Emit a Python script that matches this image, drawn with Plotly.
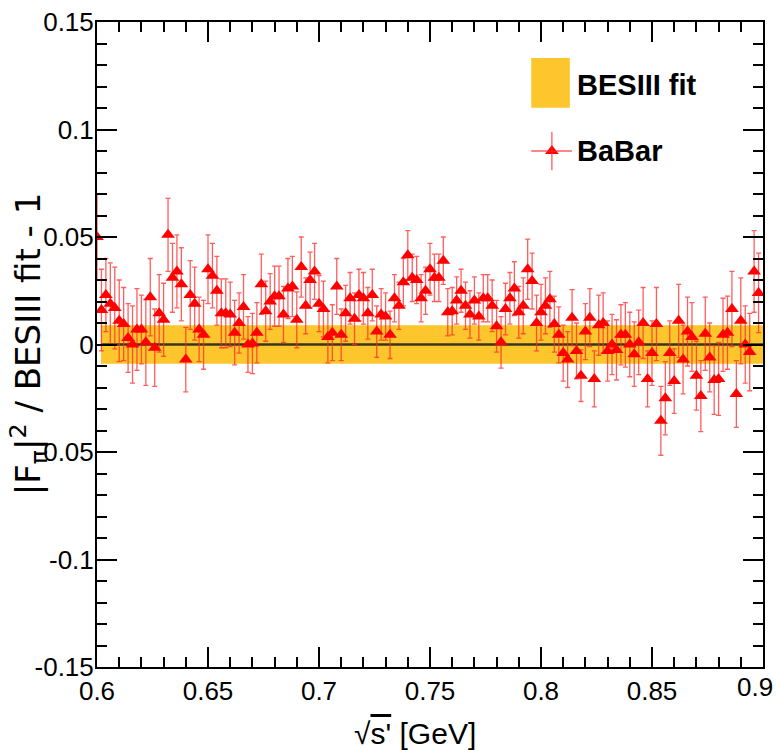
import plotly.graph_objects as go

# BaBar points: sqrt(s') bin centres [GeV] (2 MeV bins from 0.600 to 0.898)
sqrt_s = [round(0.600 + 0.002 * k, 3) for k in range(150)]

babar_ratio = [
    0.050, 0.016, 0.023, 0.019, 0.017, 0.011, 0.0095, 0.003, 0.000, 0.007,
    0.007, 0.001, 0.022, -0.0015, 0.0145, 0.0115, 0.051, 0.031, 0.034, 0.028,
    -0.007, 0.023, 0.019, 0.007, 0.0045, 0.035, 0.032, 0.025, 0.0145, 0.0145,
    0.014, 0.0055, 0.010, 0.0175, 0.000, 0.0005, 0.0055, 0.028, 0.0155, 0.020,
    0.0225, 0.0225, 0.014, 0.026, 0.027, 0.0115, 0.036, 0.018, 0.030, 0.034,
    0.019, 0.0165, 0.0035, 0.0055, 0.027, 0.0045, 0.0145, 0.0215, 0.012, 0.023,
    0.0215, 0.0145, 0.023, 0.006, 0.014, 0.013, 0.0045, 0.0215, 0.018, 0.029,
    0.0415, 0.031, 0.030, 0.0215, 0.025, 0.035, 0.031, 0.031, 0.039, 0.015,
    0.0155, 0.0205, 0.025, 0.018, 0.014, 0.0205, 0.013, 0.0215, 0.0215, 0.018,
    0.0085, 0.001, 0.0165, 0.0215, 0.026, 0.015, 0.018, 0.035, 0.0295, 0.010,
    0.015, 0.018, 0.021, 0.0095, 0.0045, -0.004, -0.007, 0.0125, -0.003, -0.0145,
    0.006, 0.0125, -0.016, 0.009, 0.010, -0.003, 0.000, -0.0025, 0.0045, 0.0045,
    0.000, -0.0045, 0.001, 0.010, -0.016, -0.004, 0.0095, -0.0355, -0.025, -0.004,
    -0.017, 0.011, -0.007, 0.006, 0.0035, -0.0145, -0.024, 0.005, -0.006, -0.0165,
    -0.016, 0.0045, 0.0055, 0.0165, -0.023, 0.011, 0.000, -0.0035, 0.034, 0.024,
]

babar_err = [
    0.020, 0.019, 0.017, 0.019, 0.019, 0.019, 0.017, 0.016, 0.018, 0.019,
    0.016, 0.020, 0.018, 0.018, 0.018, 0.017, 0.017, 0.016, 0.017, 0.017,
    0.015, 0.016, 0.017, 0.015, 0.016, 0.016, 0.015, 0.016, 0.016, 0.016,
    0.015, 0.015, 0.014, 0.015, 0.013, 0.014, 0.014, 0.014, 0.014, 0.013,
    0.014, 0.014, 0.013, 0.014, 0.014, 0.013, 0.014, 0.013, 0.013, 0.013,
    0.013, 0.013, 0.012, 0.013, 0.013, 0.012, 0.013, 0.012, 0.012, 0.012,
    0.012, 0.012, 0.012, 0.012, 0.012, 0.011, 0.011, 0.011, 0.011, 0.011,
    0.0115, 0.011, 0.011, 0.011, 0.011, 0.012, 0.011, 0.011, 0.011, 0.011,
    0.011, 0.011, 0.010, 0.011, 0.011, 0.011, 0.011, 0.011, 0.011, 0.012,
    0.012, 0.012, 0.012, 0.012, 0.0125, 0.012, 0.013, 0.014, 0.013, 0.013,
    0.013, 0.013, 0.013, 0.013, 0.013, 0.013, 0.013, 0.013, 0.013, 0.012,
    0.013, 0.0135, 0.013, 0.014, 0.014, 0.014, 0.014, 0.014, 0.014, 0.015,
    0.015, 0.015, 0.015, 0.0165, 0.013, 0.015, 0.017, 0.016, 0.017, 0.015,
    0.015, 0.017, 0.016, 0.016, 0.016, 0.016, 0.0165, 0.017, 0.016, 0.016,
    0.017, 0.017, 0.017, 0.0175, 0.0155, 0.020, 0.018, 0.018, 0.019, 0.0185,
]

# BESIII fit: central value and uncertainty band (relative)
fit_x = [0.6018, 0.9]
fit_centre = [0.0, 0.0]
fit_lo = [-0.009, -0.009]
fit_hi = [0.009, 0.009]

# axis tick labels (plain hyphen for negatives); the last x label is placed
# separately so that it stays inside the page
y_ticks = [-0.15, -0.1, -0.05, 0, 0.05, 0.1, 0.15]
y_labels = ["-0.15", "-0.1", "-0.05", "0", "0.05", "0.1", "0.15"]
x_ticks = [0.6, 0.65, 0.7, 0.75, 0.8, 0.85, 0.9]
x_labels = ["0.6", "0.65", "0.7", "0.75", "0.8", "0.85", ""]
x_last_label = "0.9"

BAND = "#FDC62D"
RED = "#FF0000"
BAR = "rgba(255,40,40,0.75)"
FONT = "Liberation Sans, Arial, sans-serif"
TICK_SIZE = 26

fig = go.Figure()

# uncertainty band of the fit
fig.add_trace(go.Scatter(
    x=fit_x + fit_x[::-1], y=fit_hi + fit_lo[::-1],
    fill="toself", fillcolor=BAND, line=dict(width=0),
    mode="lines", hoverinfo="skip", showlegend=False,
))
# fit central value
fig.add_trace(go.Scatter(
    x=fit_x, y=fit_centre, mode="lines",
    line=dict(color="#3a3520", width=2.4), showlegend=False,
))
# BaBar ratio points
fig.add_trace(go.Scatter(
    x=sqrt_s, y=babar_ratio, mode="markers",
    marker=dict(symbol="triangle-up", size=12, color=RED),
    error_y=dict(type="data", array=babar_err, color=BAR, thickness=1.3, width=2.5),
    showlegend=False,
))

# legend glyph marker on an overlay axis spanning the plotting area (0..1)
leg_tri_x = [0.683]
leg_tri_y = [0.800]
fig.add_trace(go.Scatter(
    x=leg_tri_x, y=leg_tri_y, xaxis="x2", yaxis="y2", mode="markers",
    marker=dict(symbol="triangle-up", size=12, color=RED),
    showlegend=False, hoverinfo="skip",
))

shapes = [
    dict(type="rect", xref="paper", yref="paper", x0=0.652, x1=0.710, y0=0.867, y1=0.944,
         fillcolor=BAND, line=dict(width=0), layer="above"),
    dict(type="line", xref="paper", yref="paper", x0=0.652, x1=0.713, y0=0.800, y1=0.800,
         line=dict(color=BAR, width=1.3)),
    dict(type="line", xref="paper", yref="paper", x0=0.683, x1=0.683, y0=0.770, y1=0.830,
         line=dict(color=BAR, width=1.3)),
]

annotations = [
    dict(text="<b>BESIII fit</b>", xref="paper", yref="paper", x=0.717, y=0.903,
         xanchor="left", yanchor="middle", showarrow=False,
         font=dict(family=FONT, size=29, color="black")),
    dict(text="<b>BaBar</b>", xref="paper", yref="paper", x=0.717, y=0.800,
         xanchor="left", yanchor="middle", showarrow=False,
         font=dict(family=FONT, size=29, color="black")),
    dict(text="\u221a<span style=\"text-decoration:overline\">s'</span> [GeV]",
         xref="paper", yref="paper", x=0.477, y=-0.103,
         xanchor="center", yanchor="middle", showarrow=False,
         font=dict(family=FONT, size=30, color="black")),
    dict(text="|F<sub>\u03c0</sub>|<sup>2</sup> / BESIII fit - 1",
         xref="paper", yref="paper", x=-0.103, y=0.501, textangle=-90,
         xanchor="center", yanchor="middle", showarrow=False,
         font=dict(family="DejaVu Sans, sans-serif", size=34, color="black")),
    dict(text=x_last_label, xref="x", yref="paper", x=x_ticks[-1], y=-0.031,
         xanchor="right", yanchor="middle", xshift=12, showarrow=False,
         font=dict(family=FONT, size=TICK_SIZE, color="black")),
]

axis_common = dict(
    showline=True, linecolor="black", linewidth=2, mirror="allticks",
    ticks="inside", ticklen=20, tickwidth=1.5, tickcolor="black",
    showgrid=False, zeroline=False, automargin=False,
    tickfont=dict(family=FONT, size=TICK_SIZE, color="black"),
)

fig.update_layout(
    width=776, height=750,
    margin=dict(l=97, r=13, t=22, b=83),
    paper_bgcolor="white", plot_bgcolor="white",
    shapes=shapes, annotations=annotations,
    xaxis=dict(range=[0.6, 0.9], tickvals=x_ticks, ticktext=x_labels,
               minor=dict(dtick=0.01, ticks="inside", ticklen=10, tickcolor="black"),
               **axis_common),
    yaxis=dict(range=[-0.15, 0.15], tickvals=y_ticks, ticktext=y_labels,
               ticklabelstandoff=-4,
               minor=dict(dtick=0.01, ticks="inside", ticklen=10, tickcolor="black"),
               **axis_common),
    xaxis2=dict(range=[0, 1], overlaying="x", visible=False),
    yaxis2=dict(range=[0, 1], overlaying="y", visible=False),
)

fig.write_html("out.html")
